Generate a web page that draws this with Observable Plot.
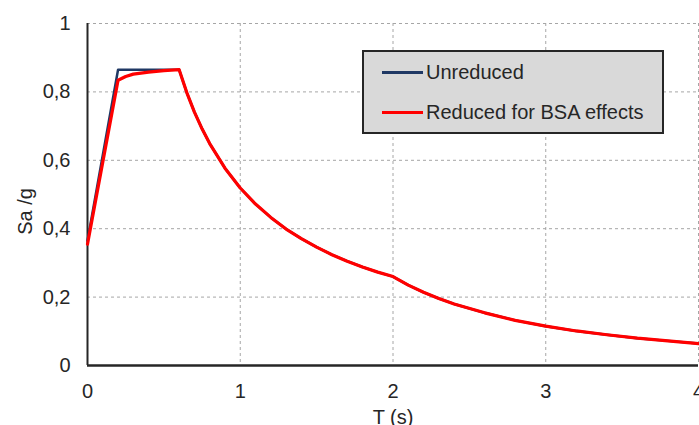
<!DOCTYPE html>
<html>
<head>
<meta charset="utf-8">
<script src="https://cdn.jsdelivr.net/npm/d3@7"></script>
<script src="https://cdn.jsdelivr.net/npm/@observablehq/plot@0.6"></script>
<style>
  html, body { margin: 0; padding: 0; background: #fff; }
  #wrap { position: relative; width: 699px; height: 425px; font-family: "Liberation Sans", Arial, sans-serif; }
  #legend { position: absolute; left: 362px; top: 50px; width: 298px; height: 80px; background: #d9d9d9; border: 2px solid #262626; }
  .row { position: absolute; left: 0; height: 24px; display: flex; align-items: center; }
  .sw { width: 41px; height: 3px; margin-left: 18px; margin-right: 3px; }
  .lab { font-size: 20px; color: #262626; white-space: nowrap; }
</style>
</head>
<body>
<div id="wrap"></div>
<script>
// ---- data ----
const periodT = [0, 0.2, 0.25, 0.3, 0.4, 0.5, 0.6, 0.65, 0.7, 0.75, 0.8, 0.9, 1.0, 1.1, 1.2, 1.3, 1.4, 1.5, 1.6, 1.7, 1.8, 1.9, 2.0, 2.1, 2.2, 2.3, 2.4, 2.6, 2.8, 3.0, 3.2, 3.4, 3.6, 3.8, 4.0];
const unreducedSa = [0.365, 0.865, 0.865, 0.865, 0.865, 0.865, 0.865, 0.798, 0.741, 0.692, 0.649, 0.577, 0.519, 0.472, 0.433, 0.399, 0.371, 0.346, 0.324, 0.305, 0.288, 0.273, 0.260, 0.235, 0.214, 0.196, 0.180, 0.154, 0.132, 0.115, 0.101, 0.090, 0.080, 0.072, 0.064];
const reducedSa   = [0.355, 0.834, 0.845, 0.852, 0.858, 0.862, 0.865, 0.798, 0.741, 0.692, 0.649, 0.577, 0.519, 0.472, 0.433, 0.399, 0.371, 0.346, 0.324, 0.305, 0.288, 0.273, 0.260, 0.235, 0.214, 0.196, 0.180, 0.154, 0.132, 0.115, 0.101, 0.090, 0.080, 0.072, 0.064];
const seriesNames = ["Unreduced", "Reduced for BSA effects"];
const seriesColors = ["#1f3864", "#ff0000"];
const xTicks = [0, 1, 2, 3, 4];
const yTicks = [0, 0.2, 0.4, 0.6, 0.8, 1];
const xLabel = "T (s)";
const yLabel = "Sa /g";

const unreduced = periodT.map((t, i) => ({T: t, Sa: unreducedSa[i]}));
const reduced = periodT.map((t, i) => ({T: t, Sa: reducedSa[i]}));
const fmt = d => String(d).replace(".", ",");

const chart = Plot.plot({
  width: 699,
  height: 425,
  marginLeft: 87,
  marginRight: 1,
  marginTop: 23,
  marginBottom: 60,
  style: {fontFamily: "Liberation Sans, Arial, sans-serif", fontSize: "20px", color: "#262626", background: "#fff", overflow: "hidden"},
  x: {domain: [0, 4]},
  y: {domain: [0, 1]},
  marks: [
    Plot.gridX(xTicks.filter(d => d > 0), {stroke: "#a6a6a6", strokeOpacity: 1, strokeDasharray: "3,3", strokeWidth: 1}),
    Plot.gridY(yTicks.filter(d => d > 0), {stroke: "#a6a6a6", strokeOpacity: 1, strokeDasharray: "3,3", strokeWidth: 1}),
    Plot.axisX(xTicks, {tickSize: 0, tickPadding: 18, tickFormat: fmt, label: null, fontSize: 20, fill: "#262626"}),
    Plot.axisY(yTicks, {tickSize: 0, tickPadding: 17, tickFormat: fmt, label: null, fontSize: 20, fill: "#262626"}),
    Plot.ruleX([0], {stroke: "#262626", strokeWidth: 2}),
    Plot.ruleY([0], {stroke: "#262626", strokeWidth: 2.5}),
    Plot.line(unreduced, {x: "T", y: "Sa", stroke: seriesColors[0], strokeWidth: 2.5}),
    Plot.line(reduced, {x: "T", y: "Sa", stroke: seriesColors[1], strokeWidth: 3.2}),
    Plot.text([yLabel], {frameAnchor: "left", textAnchor: "middle", dx: -62, dy: 17, rotate: -90, fontSize: 20, fill: "#262626"}),
    Plot.text([xLabel], {frameAnchor: "bottom", lineAnchor: "top", dy: 44, fontSize: 20, fill: "#262626"})
  ]
});

const wrap = document.getElementById("wrap");
wrap.appendChild(chart);
const legend = document.createElement("div");
legend.id = "legend";
seriesNames.forEach((name, i) => {
  const row = document.createElement("div");
  row.className = "row";
  row.style.top = (i === 0 ? 8 : 48) + "px";
  const sw = document.createElement("span");
  sw.className = "sw";
  sw.style.background = seriesColors[i];
  const lab = document.createElement("span");
  lab.className = "lab";
  lab.textContent = name;
  row.appendChild(sw);
  row.appendChild(lab);
  legend.appendChild(row);
});
wrap.appendChild(legend);
</script>
</body>
</html>
